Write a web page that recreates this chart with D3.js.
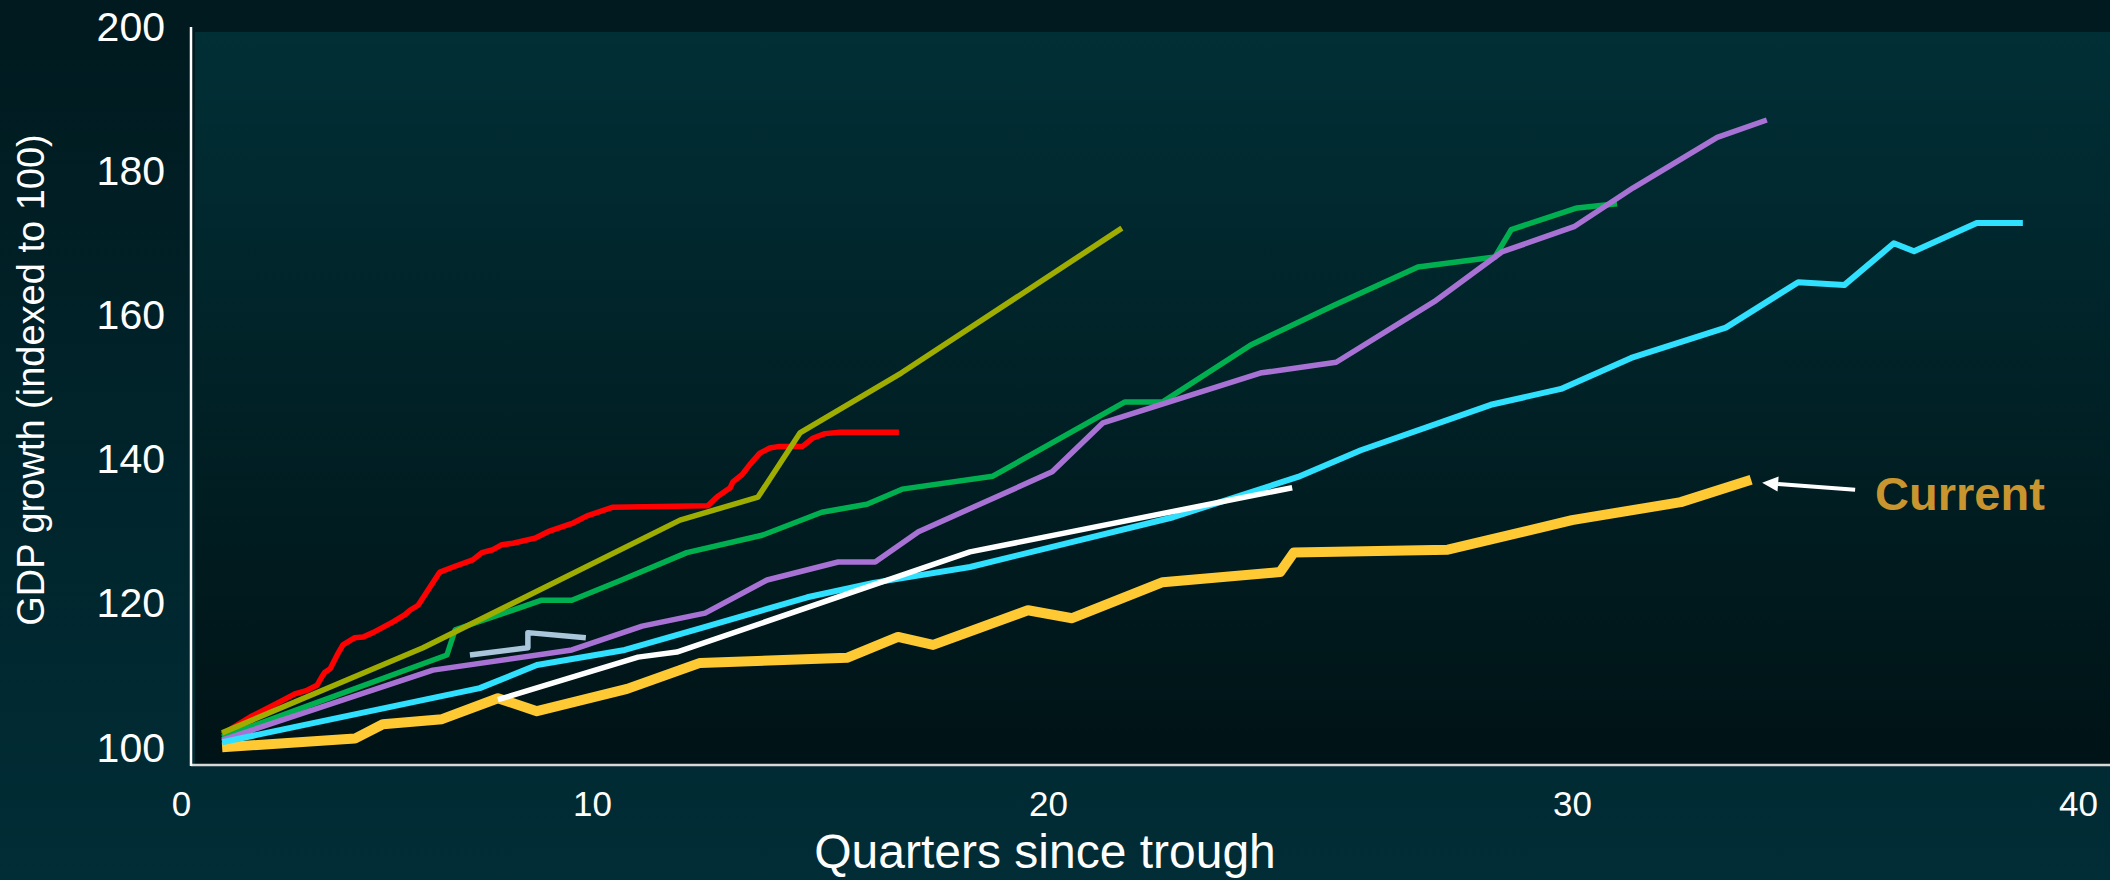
<!DOCTYPE html>
<html><head><meta charset="utf-8">
<script src="https://cdn.jsdelivr.net/npm/d3@7"></script>
<style>html,body{margin:0;padding:0;background:#001a1f;overflow:hidden}svg{display:block}</style>
</head><body>
<svg id="chart" width="2110" height="880"></svg>
<script>
// ---------- data ----------
const xTickValues = [0, 10, 20, 30, 40];
const yTickValues = [100, 120, 140, 160, 180, 200];
const xTitle = "Quarters since trough";
const yTitle = "GDP growth (indexed to 100)";
const currentLabel = "Current";

const current = [[1.0,100.1],[4.23,101.3],[4.91,103.3],[6.35,104.0],[7.71,106.9],[8.66,105.1],[10.77,108.2],[12.37,111.8],[15.59,112.5],[16.71,115.4],[17.48,114.3],[19.56,119.1],[20.46,118.0],[22.19,123.0],[24.43,124.4],[24.69,127.1],[27.63,127.5],[30.0,131.6],[32.15,134.1],[33.54,137.2]];
const red = [[1.0,101.9],[1.68,104.3],[2.34,106.2],[2.77,107.5],[3.07,108.0],[3.31,108.7],[3.43,109.9],[3.50,110.5],[3.63,111.0],[3.80,112.9],[3.94,114.3],[4.23,115.3],[4.43,115.4],[4.67,116.0],[5.16,117.5],[5.45,118.5],[5.57,119.1],[5.77,119.8],[6.25,124.0],[6.30,124.4],[6.62,125.1],[7.10,126.1],[7.32,127.1],[7.59,127.5],[7.81,128.2],[8.08,128.4],[8.61,129.1],[8.93,130.0],[9.39,130.9],[9.54,131.2],[9.88,132.2],[10.46,133.4],[12.54,133.6],[12.74,134.8],[13.03,136.1],[13.09,136.9],[13.29,137.9],[13.46,139.3],[13.68,140.9],[13.90,141.6],[14.08,141.8],[14.61,141.8],[14.85,143.0],[15.11,143.6],[15.44,143.8],[16.73,143.8]];
const olive = [[1.0,102.1],[5.89,113.9],[11.93,131.6],[13.64,134.8],[14.56,143.7],[16.78,152.0],[21.41,172.1]];
const green = [[1.0,101.5],[6.47,112.9],[6.67,116.4],[8.78,120.5],[9.51,120.5],[10.61,123.2],[12.08,127.1],[13.73,129.5],[15.04,132.7],[16.03,133.8],[16.80,135.9],[18.79,137.7],[21.47,148.0],[22.19,148.0],[23.87,155.9],[25.46,161.4],[27.06,166.7],[28.53,168.1],[28.84,171.9],[30.10,174.9],[30.89,175.5]];
const purple = [[1.0,101.1],[6.13,110.8],[9.51,113.6],[11.10,116.9],[12.48,118.7],[13.84,123.3],[15.40,125.8],[16.21,125.8],[17.16,130.0],[20.08,138.3],[21.05,145.1],[24.05,152.0],[25.50,153.5],[27.37,161.9],[28.66,168.8],[30.04,172.3],[31.21,177.7],[32.87,184.7],[33.85,187.1]];
const cyan = [[1.0,100.8],[7.27,108.3],[8.66,111.5],[10.72,113.6],[12.37,116.6],[14.72,120.9],[16.17,122.9],[18.29,125.1],[22.39,132.0],[24.77,137.6],[25.97,141.3],[28.45,147.6],[29.79,149.8],[31.17,154.1],[33.04,158.3],[34.47,164.6],[35.38,164.2],[36.36,170.0],[36.76,168.9],[38.00,172.8],[38.91,172.8]];
const white = [[7.71,106.7],[11.01,112.6],[11.86,113.3],[18.29,127.2],[24.66,136.1]];
const grayBlue = [[7.03,112.9],[8.44,113.9],[8.44,116.0],[9.85,115.3]];

// drawing order (bottom to top)
const seriesList = [
  {data: current, color: "#ffc933", width: 10},
  {data: red, color: "#ff0000", width: 5.5},
  {data: green, color: "#00b050", width: 5.5},
  {data: purple, color: "#a872d4", width: 5.5},
  {data: cyan, color: "#2fe0ff", width: 6},
  {data: white, color: "#ffffff", width: 5.5},
  {data: grayBlue, color: "#a9c6da", width: 5.5},
  {data: olive, color: "#9fad00", width: 5.5}
];

// ---------- layout ----------
const W = 2110, H = 880;
const axisX = 191, axisY = 765, plotTop = 32, plotLeft = 195;
const font = "'Liberation Sans', Arial, Helvetica, sans-serif";

const svg = d3.select("#chart");
const defs = svg.append("defs");
const pg = defs.append("linearGradient").attr("id","pageGrad").attr("x1",0).attr("y1",0).attr("x2",0).attr("y2",1);
pg.append("stop").attr("offset",0).attr("stop-color","#001a1f");
pg.append("stop").attr("offset",1).attr("stop-color","#012d36");
const ag = defs.append("linearGradient").attr("id","plotGrad").attr("x1",0).attr("y1",0).attr("x2",0).attr("y2",1);
ag.append("stop").attr("offset",0).attr("stop-color","#012f36");
ag.append("stop").attr("offset",1).attr("stop-color","#001316");

svg.append("rect").attr("x",0).attr("y",0).attr("width",W).attr("height",H).attr("fill","url(#pageGrad)");
svg.append("rect").attr("x",plotLeft).attr("y",plotTop).attr("width",W-plotLeft).attr("height",axisY-plotTop).attr("fill","url(#plotGrad)");

const x = d3.scaleLinear().domain(xTickValues).range([181, 592, 1048, 1572, 2078]);
const y = d3.scaleLinear().domain([97.64, 200]).range([axisY, 27]);

// lines
const line = d3.line().x(d => x(d[0])).y(d => y(d[1]));
svg.append("g").selectAll("path").data(seriesList).join("path")
  .attr("d", d => line(d.data))
  .attr("fill","none")
  .attr("stroke", d => d.color)
  .attr("stroke-width", d => d.width)
  .attr("stroke-linejoin","round")
  .attr("stroke-linecap","butt");

// axes
const yAxis = d3.axisLeft(y).tickValues(yTickValues).tickSize(0).tickPadding(26).tickFormat(d3.format("d"));
const gy = svg.append("g").attr("transform",`translate(${axisX},0)`).call(yAxis);
gy.select(".domain").remove();
gy.selectAll("text").attr("fill","#ffffff").style("font-family",font).style("font-size","41px");

const xAxis = d3.axisBottom(x).tickValues(xTickValues).tickSize(0).tickPadding(26).tickFormat(d3.format("d"));
const gx = svg.append("g").attr("transform",`translate(0,${axisY})`).call(xAxis);
gx.select(".domain").remove();
gx.selectAll("text").attr("fill","#ffffff").style("font-family",font).style("font-size","35px");

svg.append("line").attr("x1",axisX).attr("x2",W).attr("y1",axisY).attr("y2",axisY)
  .attr("stroke","#d8d8d8").attr("stroke-width",2.5);
svg.append("line").attr("x1",axisX).attr("x2",axisX).attr("y1",y(200)).attr("y2",axisY+1)
  .attr("stroke","#ffffff").attr("stroke-width",2.5);

// titles
svg.append("text").attr("x",1045).attr("y",868).attr("text-anchor","middle")
  .attr("fill","#ffffff").style("font-family",font).style("font-size","48px").text(xTitle);
svg.append("text").attr("transform","translate(44,380) rotate(-90)").attr("text-anchor","middle")
  .attr("fill","#ffffff").style("font-family",font).style("font-size","38px").text(yTitle);

// annotation for current
const last = current[current.length-1];
const ex = x(last[0]), ey = y(last[1]);
const tip = [ex + 11, ey + 3], tail = [ex + 104, ey + 10];
const ang = Math.atan2(tail[1]-tip[1], tail[0]-tip[0]);
const hl = 16, hw = 7.5;
const base = [tip[0] + hl*Math.cos(ang), tip[1] + hl*Math.sin(ang)];
svg.append("line").attr("x1",tail[0]).attr("y1",tail[1]).attr("x2",base[0]).attr("y2",base[1])
  .attr("stroke","#ffffff").attr("stroke-width",4);
svg.append("path").attr("d", d3.line()([
  tip,
  [base[0] - hw*Math.sin(ang), base[1] + hw*Math.cos(ang)],
  [base[0] + hw*Math.sin(ang), base[1] - hw*Math.cos(ang)]
]) + "Z").attr("fill","#ffffff");
svg.append("text").attr("x", ex + 124).attr("y", ey + 30)
  .attr("fill","#c8952e").style("font-family",font).style("font-size","47px").style("font-weight","bold")
  .text(currentLabel);
</script>
</body></html>
